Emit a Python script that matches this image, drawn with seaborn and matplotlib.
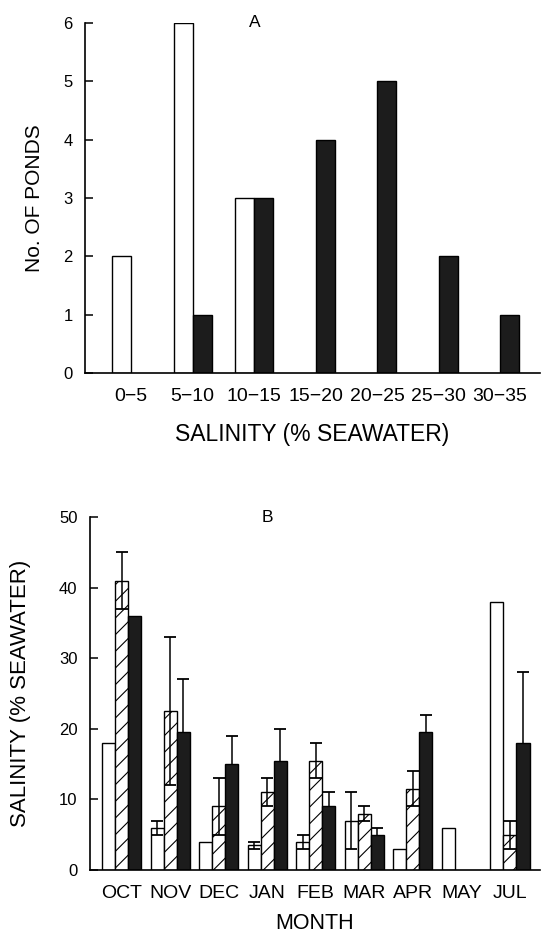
import numpy as np
import pandas as pd
import seaborn as sb
import matplotlib.pyplot as plt

nan = np.nan

# panel A - number of ponds per salinity class
ranges = ['0\u22125', '5\u221210', '10\u221215', '15\u221220', '20\u221225', '25\u221230', '30\u221235']
open_ponds = [2, 6, 3, nan, nan, nan, nan]
filled_ponds = [nan, 1, 3, 4, 5, 2, 1]

# panel B - monthly salinity, mean and error
months = ['OCT', 'NOV', 'DEC', 'JAN', 'FEB', 'MAR', 'APR', 'MAY', 'JUL']
open_mean = [18, 6, 4, 3.5, 4, 7, 3, 6, 38]
open_err = [nan, 1, nan, 0.5, 1, 4, nan, nan, nan]
hatch_mean = [41, 22.5, 9, 11, 15.5, 8, 11.5, nan, 5]
hatch_err = [4, 10.5, 4, 2, 2.5, 1, 2.5, nan, 2]
solid_mean = [36, 19.5, 15, 15.5, 9, 5, 19.5, nan, 18]
solid_err = [nan, 7.5, 4, 4.5, 2, 1, 2.5, nan, 10]

sb.set_style('ticks', {'axes.edgecolor': 'black', 'text.color': 'black',
                       'axes.labelcolor': 'black', 'xtick.color': 'black',
                       'ytick.color': 'black'})
plt.rcParams['font.family'] = ['Liberation Sans', 'DejaVu Sans']
plt.rcParams['hatch.linewidth'] = 0.8
plt.rcParams['axes.linewidth'] = 1.2

BLACK = '#1c1c1c'

def style_axes(ax):
    sb.despine(ax=ax)
    ax.tick_params(axis='y', direction='in', length=6, width=1.1, pad=9, labelsize=12)
    ax.tick_params(axis='x', length=0, pad=11)

fig = plt.figure(figsize=(5.46, 9.38), dpi=100)

# ---------- panel A ----------
df_a = pd.DataFrame({
    'range': ranges * 2,
    'kind': ['open'] * len(ranges) + ['filled'] * len(ranges),
    'count': open_ponds + filled_ponds,
})
ax1 = fig.add_axes([0.156, 0.6023, 0.833, 0.3732])
sb.barplot(data=df_a.dropna(), x='range', y='count', hue='kind', order=ranges,
           hue_order=['open', 'filled'], palette={'open': 'white', 'filled': BLACK},
           edgecolor='black', linewidth=1.0, width=0.62, gap=0, legend=False, ax=ax1)
ax1.set_xlim(-0.75, 6.65)
ax1.set_ylim(0, 6)
ax1.set_yticks(range(0, 7))
style_axes(ax1)
for lab in ax1.get_xticklabels():
    lab.set_fontsize(14)
ax1.set_xlabel('SALINITY (% SEAWATER)', fontsize=16.5, labelpad=13)
ax1.set_ylabel('No. OF PONDS', fontsize=15, labelpad=14)
ax1.text(0.374, 1.0, 'A', transform=ax1.transAxes, ha='center', va='center', fontsize=12.5)

# ---------- panel B ----------
kinds = ['open', 'hatched', 'solid']
df_b = pd.DataFrame({
    'month': months * 3,
    'kind': [k for k in kinds for _ in months],
    'mean': open_mean + hatch_mean + solid_mean,
    'err': open_err + hatch_err + solid_err,
})
ax2 = fig.add_axes([0.165, 0.0725, 0.824, 0.3763])
sb.barplot(data=df_b.dropna(subset=['mean']), x='month', y='mean', hue='kind', order=months,
           hue_order=kinds, palette={'open': 'white', 'hatched': 'white', 'solid': BLACK},
           edgecolor='black', linewidth=1.0, width=0.81, gap=0, legend=False, ax=ax2)

for kind, cont in zip(kinds, ax2.containers):
    sub = df_b[df_b['kind'] == kind].set_index('month')
    for patch in cont:
        if kind == 'hatched':
            patch.set_hatch('//')
        xc = patch.get_x() + patch.get_width() / 2
        m = months[int(round(xc))]
        e = sub.loc[m, 'err']
        if not np.isnan(e):
            # lower whisker of the black bars is hidden behind the bar
            z = 0.5 if kind == 'solid' else 5
            ax2.errorbar(xc, patch.get_height(), yerr=e, fmt='none', ecolor='black',
                         elinewidth=1.1, capsize=4, capthick=1.3, zorder=z)

ax2.set_xlim(-0.65, 8.62)
ax2.set_ylim(0, 50)
ax2.set_yticks(range(0, 51, 10))
style_axes(ax2)
for lab in ax2.get_xticklabels():
    lab.set_fontsize(14)
ax2.set_xlabel('MONTH', fontsize=15.5, labelpad=8)
ax2.set_ylabel('SALINITY (% SEAWATER)', fontsize=16, labelpad=20)
ax2.text(0.393, 1.0, 'B', transform=ax2.transAxes, ha='center', va='center', fontsize=12.5)

plt.savefig('out.png', dpi=100)
